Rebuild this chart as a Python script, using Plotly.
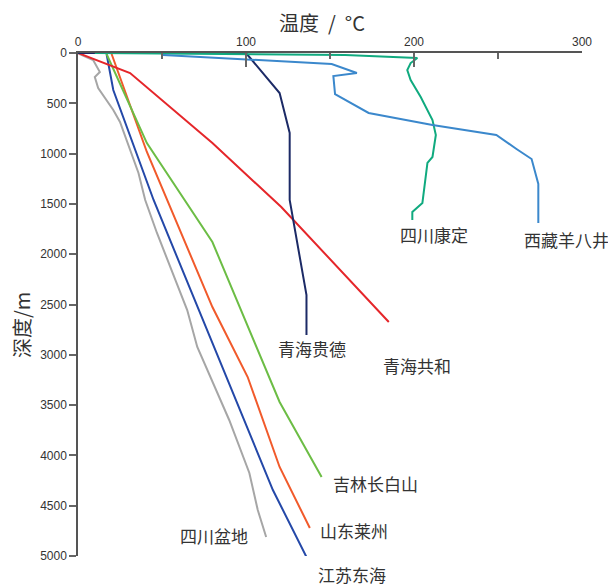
import plotly.graph_objects as go

# ---- data (temperature °C, depth m) ----
names = ["四川盆地", "江苏东海", "山东莱州", "吉林长白山", "青海共和", "青海贵德", "四川康定", "西藏羊八井"]

sc_basin_T = [0, 1, 9, 13, 10, 12, 21, 25, 36, 40, 47, 65, 71, 90, 102, 107, 112]
sc_basin_D = [0, 10, 70, 189, 239, 348, 567, 686, 1193, 1461, 1789, 2555, 2922, 3648, 4175, 4543, 4811]

js_T = [17, 21, 45, 80, 116, 136]
js_D = [10, 368, 1461, 2880, 4344, 5010]

sd_T = [20, 41, 80, 101, 120, 138]
sd_D = [10, 984, 2525, 3221, 4115, 4722]

jl_T = [17, 41, 80, 120, 145]
jl_D = [10, 895, 1879, 3469, 4215]

qh_gh_T = [0, 31, 80, 121, 185]
qh_gh_D = [0, 199, 895, 1531, 2674]

qh_gd_T = [0, 100, 120, 126, 126, 136, 136]
qh_gd_D = [0, 0, 398, 795, 1461, 2406, 2803]

sc_kd_T = [10, 159, 202, 198, 196, 198, 204, 211, 213, 211, 208, 205, 199, 199]
sc_kd_D = [0, 20, 50, 100, 170, 268, 437, 666, 815, 1034, 1093, 1491, 1580, 1660]

xz_T = [50.6, 151, 166, 152, 153, 173, 211, 249, 261, 270, 274, 274]
xz_D = [20, 109, 199, 229, 408, 596, 716, 815, 954, 1054, 1302, 1690]

series_T = [sc_basin_T, js_T, sd_T, jl_T, qh_gh_T, qh_gd_T, sc_kd_T, xz_T]
series_D = [sc_basin_D, js_D, sd_D, jl_D, qh_gh_D, qh_gd_D, sc_kd_D, xz_D]
colors = ["#a6a6a6", "#2448a8", "#f15a2b", "#6cbd45", "#e5262a", "#1c2a66", "#10aa7f", "#3b88cc"]

# label anchor positions (data coords) and extra pixel offset
label_T = [81, 163, 164, 177, 202, 139, 212, 291]
label_D = [4801, 5000, 4751, 4284, 3111, 2942, 1809, 1849]
label_yshift = [0, -18, 0, 0, 0, 0, 0, 0]

x_ticks = [0, 100, 200, 300]
y_ticks = [0, 500, 1000, 1500, 2000, 2500, 3000, 3500, 4000, 4500, 5000]

fig = go.Figure()
for n, t, d, c in zip(names, series_T, series_D, colors):
    fig.add_trace(go.Scatter(x=t, y=d, mode="lines", name=n,
                             line=dict(color=c, width=2), showlegend=False))

for n, t, d, ys in zip(names, label_T, label_D, label_yshift):
    fig.add_annotation(x=t, y=d, yshift=ys, text=n, showarrow=False, xanchor="center", yanchor="middle",
                       font=dict(family="Noto Sans CJK SC", size=17, color="#333333"))

# page body has an 8px margin, so the figure is 8px smaller and offset
fig.update_layout(
    width=608, height=580,
    margin=dict(l=70, r=34, t=45, b=32, autoexpand=False),
    plot_bgcolor="white", paper_bgcolor="white",
    font=dict(family="Liberation Sans, Arial", size=12, color="#333333"),
)
fig.update_xaxes(
    side="top", range=[0, 300], tickvals=x_ticks, ticktext=[str(v) for v in x_ticks],
    ticks="inside", ticklen=14, tickwidth=1.5, tickcolor="#666666",
    minor=dict(dtick=50, tick0=0, ticks="inside", ticklen=6, tickwidth=1.5, tickcolor="#666666"),
    showline=True, linecolor="#555555", linewidth=1.5, showgrid=False, zeroline=False,
    tickfont=dict(size=12, color="#333333"), automargin=False,
)
fig.update_yaxes(
    range=[5000, 0], tickvals=y_ticks, ticks="outside", ticklen=7, tickwidth=1.5, tickcolor="#666666",
    showline=True, linecolor="#555555", linewidth=1.5, showgrid=False, zeroline=False,
    tickfont=dict(size=12, color="#333333"), automargin=False,
)
fig.add_annotation(xref="paper", yref="paper", x=(322 - 78) / 504, y=1, yshift=31,
                   text="温度  /  °C", showarrow=False, xanchor="center", yanchor="middle",
                   font=dict(family="Noto Sans CJK SC", size=20, color="#333333"))
fig.add_annotation(xref="paper", yref="paper", x=0, xshift=-57, y=(556 - 325) / 503,
                   text="深度/m", textangle=-90, showarrow=False, xanchor="center", yanchor="middle",
                   font=dict(family="Noto Sans CJK SC", size=20, color="#333333"))

fig.write_html("out.html")
